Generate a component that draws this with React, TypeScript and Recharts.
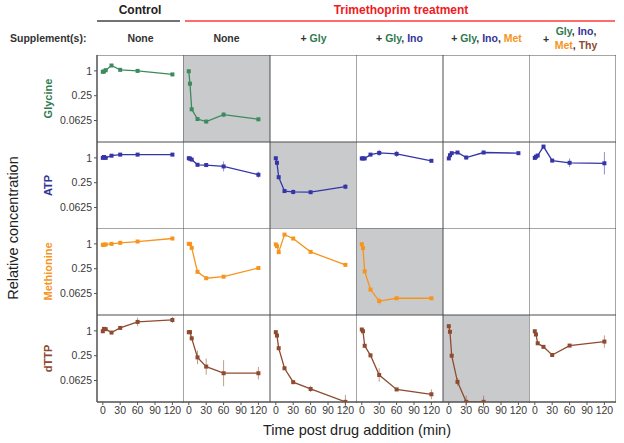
import * as React from "react";
import { LineChart, Line, XAxis, YAxis, ReferenceArea, ErrorBar } from "recharts";

// sampling times (min) and axis ticks
const times = [0, 2, 5, 15, 30, 60, 120];
const xTicks = [0, 30, 60, 90, 120];
const yTicks = [0, -2, -4]; // log2 of 1, 0.25, 0.0625
const yDomain = [-5.73, 1.28];
const xDomain = [-10, 140];

// relative concentrations, one array per panel (control, none, +gly, +gly/ino, +gly/ino/met, +all)
const glyControl = [0.95, 0.97, 1.04, 1.35, 1.06, 1.0, 0.82];
const glyNone = [0.98, 0.49, 0.117, 0.068, 0.059, 0.087, 0.067];

const atpControl = [1.0, 1.05, 1.0, 1.13, 1.2, 1.2, 1.2];
const atpNone = [0.98, 0.96, 0.91, 0.68, 0.67, 0.62, 0.39];
const atpGly = [0.98, 0.76, 0.34, 0.157, 0.149, 0.147, 0.2];
const atpGlyIno = [0.97, 0.97, 0.97, 1.2, 1.32, 1.25, 0.85];
const atpGlyInoMet = [0.97, 1.16, 1.3, 1.35, 1.02, 1.35, 1.3];
const atpAll = [1.0, 1.07, 1.14, 1.88, 0.86, 0.76, 0.74];

const metControl = [0.95, 0.95, 0.97, 1.0, 1.06, 1.14, 1.35];
const metNone = [1.0, 1.0, 0.8, 0.21, 0.147, 0.16, 0.26];
const metGly = [0.97, 0.88, 0.63, 1.68, 1.35, 0.64, 0.31];
const metGlyIno = [0.98, 0.79, 0.216, 0.078, 0.041, 0.048, 0.048];

const dttpControl = [0.98, 1.12, 1.1, 0.91, 1.18, 1.65, 1.84];
const dttpNone = [0.93, 0.93, 0.66, 0.228, 0.136, 0.094, 0.094];
const dttpGly = [0.93, 0.77, 0.38, 0.124, 0.057, 0.039, 0.019];
const dttpGlyIno = [1.08, 0.98, 0.435, 0.255, 0.085, 0.038, 0.029];
const dttpGlyInoMet = [1.3, 0.95, 0.25, 0.058, 0.019, 0.019, null];
const dttpAll = [0.98, 0.82, 0.5, 0.41, 0.26, 0.44, 0.55];

// error half-widths in log2 units
const glyControlErr = [0.05, 0.05, 0.05, 0.05, 0.05, 0.05, 0.05];
const glyNoneErr = [0.05, 0.05, 0.1, 0.1, 0.05, 0.2, 0.1];
const atpControlErr = [0.08, 0.1, 0.05, 0.1, 0.05, 0.05, 0.05];
const atpNoneErr = [0.05, 0.05, 0.05, 0.1, 0.1, 0.4, 0.25];
const atpGlyErr = [0.05, 0.1, 0.1, 0.1, 0.2, 0.1, 0.2];
const atpGlyInoErr = [0.05, 0.05, 0.05, 0.1, 0.25, 0.25, 0.05];
const atpGlyInoMetErr = [0.05, 0.1, 0.05, 0.1, 0.15, 0.15, 0.05];
const atpAllErr = [0.05, 0.1, 0.05, 0.05, 0.05, 0.35, 0.9];
const metControlErr = [0.05, 0.05, 0.05, 0.05, 0.05, 0.05, 0.05];
const metNoneErr = [0.05, 0.05, 0.05, 0.1, 0.1, 0.05, 0.05];
const metGlyErr = [0.05, 0.05, 0.1, 0.1, 0.05, 0.15, 0.05];
const metGlyInoErr = [0.05, 0.1, 0.1, 0.1, 0.3, 0.05, 0.1];
const dttpControlErr = [0.1, 0.1, 0.1, 0.1, 0.1, 0.35, 0.25];
const dttpNoneErr = [0.05, 0.1, 0.1, 0.55, 0.65, 1.05, 0.5];
const dttpGlyErr = [0.05, 0.05, 0.1, 0.1, 0.15, 0.25, 0.55];
const dttpGlyInoErr = [0.05, 0.05, 0.1, 0.1, 0.55, 0.1, 0.4];
const dttpGlyInoMetErr = [0.1, 0.1, 0.1, 0.3, 0.5, 0.5, 0];
const dttpAllErr = [0.05, 0.1, 0.1, 0.05, 0.05, 0.1, 0.5];

const metabolites = ["Glycine", "ATP", "Methionine", "dTTP"];
const lineColors = ["#3d8a5f", "#3535a8", "#f7941d", "#8e4b30"];
const labelColors = ["#2f7a50", "#33339a", "#f7941d", "#8b4a2f"];
const shadedCol = [1, 2, 3, 4];

const panelValues = [
  [glyControl, glyNone, null, null, null, null],
  [atpControl, atpNone, atpGly, atpGlyIno, atpGlyInoMet, atpAll],
  [metControl, metNone, metGly, metGlyIno, null, null],
  [dttpControl, dttpNone, dttpGly, dttpGlyIno, dttpGlyInoMet, dttpAll],
];
const panelErrors = [
  [glyControlErr, glyNoneErr, null, null, null, null],
  [atpControlErr, atpNoneErr, atpGlyErr, atpGlyInoErr, atpGlyInoMetErr, atpAllErr],
  [metControlErr, metNoneErr, metGlyErr, metGlyInoErr, null, null],
  [dttpControlErr, dttpNoneErr, dttpGlyErr, dttpGlyInoErr, dttpGlyInoMetErr, dttpAllErr],
];

const colLefts = [97, 183, 270, 356, 443, 529];
const rowTops = [55, 142, 228, 315];
const cellW = 87;
const cellH = 87;
const yAxisW = 40;
const xAxisH = 22;
const font = "Arial, 'Liberation Sans', sans-serif";

function Panel({ row, col }: { row: number; col: number }) {
  const vals = panelValues[row][col];
  const errs = panelErrors[row][col];
  const color = lineColors[row];
  const first = col === 0;
  const last = row === 3;
  const data = vals
    ? times.map((t, i) => ({
        t,
        v: vals[i] == null ? null : Math.log2(vals[i] as number),
        err: errs ? errs[i] : 0,
      }))
    : times.map((t) => ({ t, v: null, err: 0 }));

  const w = cellW + (first ? yAxisW : 0);
  const h = cellH + (last ? xAxisH : 0);
  const tickStyle = { fill: "#3a3a3a", fontSize: 10.5, fontFamily: font };

  return (
    <div
      style={{
        position: "absolute",
        left: colLefts[col] - (first ? yAxisW : 0),
        top: rowTops[row],
      }}
    >
      <LineChart width={w} height={h} data={data} margin={{ top: 0, right: 0, bottom: 0, left: 0 }}>
        <XAxis
          dataKey="t"
          type="number"
          domain={xDomain}
          ticks={xTicks}
          hide={!last}
          height={xAxisH}
          tick={tickStyle}
          tickSize={3}
          tickLine={{ stroke: "#555" }}
          axisLine={{ stroke: "#555" }}
          interval={0}
        />
        <YAxis
          type="number"
          domain={yDomain}
          ticks={yTicks}
          allowDataOverflow
          hide={!first}
          width={yAxisW}
          tick={tickStyle}
          tickSize={3}
          tickLine={{ stroke: "#555" }}
          axisLine={{ stroke: "#555" }}
          tickFormatter={(v: number) => String(Math.pow(2, v))}
          interval={0}
        />
        <ReferenceArea
          x1={xDomain[0]}
          x2={xDomain[1]}
          y1={yDomain[0]}
          y2={yDomain[1]}
          fill={shadedCol[row] === col ? "#c9cacc" : "#ffffff"}
          fillOpacity={1}
          stroke="#4d4d4d"
          strokeWidth={1}
        />
        {vals && (
          <Line
            dataKey="v"
            type="linear"
            stroke={color}
            strokeWidth={1.3}
            isAnimationActive={false}
            connectNulls={false}
            dot={(p: any) =>
              p.cy == null || p.cx == null ? (
                <g key={p.index} />
              ) : (
                <rect key={p.index} x={p.cx - 2} y={p.cy - 2} width={4} height={4} fill={color} />
              )
            }
          >
            <ErrorBar dataKey="err" direction="y" width={0} stroke={color} strokeOpacity={0.55} strokeWidth={1} />
          </Line>
        )}
      </LineChart>
    </div>
  );
}

export default function App() {
  const colCenter = (c: number) => colLefts[c] + cellW / 2;
  const hdr = { fontFamily: font, fontSize: 10.5, fontWeight: 700, fill: "#333" } as const;
  return (
    <div style={{ position: "absolute", left: 0, top: 0, width: 624, height: 443, background: "#fff" }}>
      {metabolites.map((_, r) =>
        colLefts.map((_, c) => <Panel key={`${r}-${c}`} row={r} col={c} />)
      )}
      <svg width={624} height={443} style={{ position: "absolute", left: 0, top: 0, pointerEvents: "none" }}>
        <text x={140} y={14} textAnchor="middle" style={{ ...hdr, fontSize: 12, fill: "#222" }}>
          Control
        </text>
        <line x1={97} x2={180} y1={21} y2={21} stroke="#444" strokeWidth={1.5} />
        <text x={401} y={14} textAnchor="middle" style={{ ...hdr, fontSize: 12, fill: "#ed1c24" }}>
          Trimethoprim treatment
        </text>
        <line x1={185} x2={615} y1={21} y2={21} stroke="#ff3b3b" strokeWidth={1.5} />

        <text x={10} y={42} style={hdr}>Supplement(s):</text>
        <text x={colCenter(0)} y={42} textAnchor="middle" style={hdr}>None</text>
        <text x={colCenter(1)} y={42} textAnchor="middle" style={hdr}>None</text>
        <text x={colCenter(2)} y={42} textAnchor="middle" style={hdr}>
          + <tspan fill={labelColors[0]}>Gly</tspan>
        </text>
        <text x={colCenter(3)} y={42} textAnchor="middle" style={hdr}>
          + <tspan fill={labelColors[0]}>Gly</tspan>, <tspan fill={labelColors[1]}>Ino</tspan>
        </text>
        <text x={colCenter(4)} y={42} textAnchor="middle" style={hdr}>
          + <tspan fill={labelColors[0]}>Gly</tspan>, <tspan fill={labelColors[1]}>Ino</tspan>,{" "}
          <tspan fill={labelColors[2]}>Met</tspan>
        </text>
        <text x={543} y={43} style={hdr}>+</text>
        <text x={576} y={35} textAnchor="middle" style={hdr}>
          <tspan fill={labelColors[0]}>Gly</tspan>, <tspan fill={labelColors[1]}>Ino</tspan>,
        </text>
        <text x={576} y={49} textAnchor="middle" style={hdr}>
          <tspan fill={labelColors[2]}>Met</tspan>, <tspan fill={labelColors[3]}>Thy</tspan>
        </text>

        {metabolites.map((m, r) => {
          const cy = rowTops[r] + cellH / 2;
          return (
            <text
              key={m}
              x={48}
              y={cy}
              textAnchor="middle"
              dominantBaseline="central"
              transform={`rotate(-90 48 ${cy})`}
              style={{ ...hdr, fontSize: 11, fill: labelColors[r] }}
            >
              {m}
            </text>
          );
        })}
        <text
          x={13}
          y={228}
          textAnchor="middle"
          dominantBaseline="central"
          transform="rotate(-90 13 228)"
          style={{ fontFamily: font, fontSize: 14.5, fill: "#222" }}
        >
          Relative concentration
        </text>
        <text x={357} y={435} textAnchor="middle" style={{ fontFamily: font, fontSize: 14.5, fill: "#222" }}>
          Time post drug addition (min)
        </text>
      </svg>
    </div>
  );
}
